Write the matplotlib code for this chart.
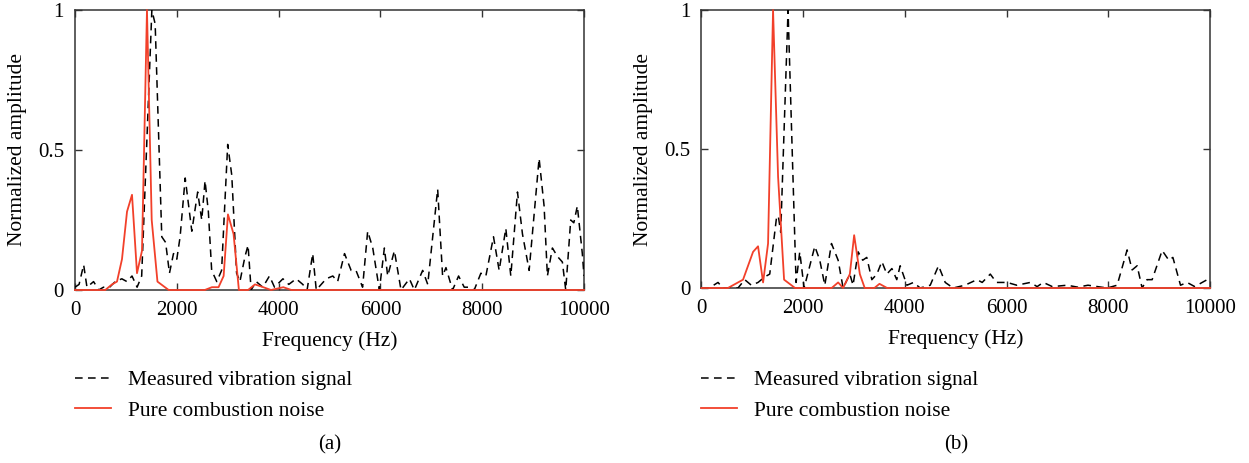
import matplotlib
matplotlib.use("Agg")
import matplotlib.pyplot as plt

plt.rcParams['font.family'] = ['Liberation Serif', 'DejaVu Serif']
plt.rcParams['font.size'] = 15

# (a) measured vibration signal
freq_a_meas = [0, 80, 170, 235, 300, 365, 465, 560, 680, 790, 920, 1020, 1120, 1220, 1310,
               1510, 1575, 1705, 1780, 1856, 1935, 2000, 2065, 2165, 2295, 2410, 2490, 2555,
               2620, 2685, 2785, 2880, 3000, 3080, 3175, 3240, 3340, 3400, 3460, 3560, 3690,
               3820, 3920, 4085, 4200, 4345, 4475, 4560, 4670, 4740, 4935, 5065, 5160, 5295,
               5425, 5520, 5650, 5750, 5850, 5980, 6078, 6143, 6275, 6405, 6570, 6667, 6830,
               6930, 7125, 7222, 7288, 7418, 7536, 7647, 7745, 7843, 7974, 8072, 8222, 8333,
               8464, 8562, 8693, 8791, 8922, 9118, 9216, 9281, 9379, 9477, 9575, 9641, 9739,
               9800, 9869, 9967, 10000]
amp_a_meas = [0.01, 0.02, 0.09, 0.01, 0.02, 0.03, 0.0, 0.01, 0.01, 0.03, 0.04, 0.03, 0.05, 0.01, 0.05,
              1.0, 0.95, 0.19, 0.17, 0.06, 0.13, 0.11, 0.19, 0.40, 0.21, 0.35, 0.25, 0.39,
              0.28, 0.07, 0.03, 0.07, 0.52, 0.41, 0.06, 0.03, 0.12, 0.16, 0.0, 0.03, 0.01,
              0.05, 0.01, 0.04, 0.02, 0.04, 0.02, 0.0, 0.13, 0.0, 0.04, 0.05, 0.03, 0.13,
              0.07, 0.07, 0.01, 0.21, 0.15, 0.0, 0.15, 0.05, 0.14, 0.0, 0.04, 0.0, 0.07,
              0.02, 0.36, 0.05, 0.08, 0.0, 0.05, 0.01, 0.01, 0.0, 0.06, 0.05, 0.19, 0.07,
              0.22, 0.05, 0.35, 0.2, 0.07, 0.47, 0.3, 0.05, 0.15, 0.12, 0.1, 0.0, 0.25,
              0.24, 0.3, 0.13, 0.05]

# (a) pure combustion noise
freq_a_comb = [0, 595, 727, 825, 923, 1022, 1120, 1218, 1316, 1414, 1507, 1620, 1840, 2550,
               2690, 2820, 2920, 3005, 3115, 3220, 3400, 3536, 3700, 3850, 4093, 4250, 10000]
amp_a_comb = [0, 0, 0.02, 0.03, 0.11, 0.28, 0.34, 0.06, 0.14, 1.0, 0.25, 0.03, 0, 0,
              0.01, 0.01, 0.05, 0.27, 0.2, 0.0, 0.0, 0.02, 0.01, 0.0, 0.01, 0, 0]

# (b) measured vibration signal
freq_b_meas = [0, 150, 325, 420, 600, 718, 850, 980, 1112, 1244, 1342, 1473, 1510, 1558, 1702,
               1860, 1932, 2018, 2228, 2326, 2425, 2556, 2687, 2785, 2917, 2980, 3081, 3170,
               3250, 3350, 3449, 3547, 3645, 3744, 3840, 3907, 4040, 4170, 4300, 4498, 4661,
               4793, 4950, 5180, 5417, 5520, 5679, 5800, 6010, 6200, 6466, 6600, 6722, 6900,
               7190, 7400, 7600, 7977, 8174, 8370, 8469, 8567, 8665, 8760, 8862, 9059, 9190,
               9270, 9420, 9550, 9700, 9846, 9945, 10000]
amp_b_meas = [0, 0, 0.02, 0, 0, 0.0, 0.03, 0.01, 0.02, 0.04, 0.05, 0.25, 0.26, 0.2, 1.0,
              0.02, 0.13, 0.0, 0.15, 0.1, 0.01, 0.16, 0.1, 0.0, 0.05, 0.01, 0.13, 0.1,
              0.11, 0.03, 0.05, 0.095, 0.05, 0.07, 0.03, 0.08, 0.01, 0.02, 0.0, 0.01, 0.08,
              0.02, 0.0, 0.01, 0.03, 0.02, 0.05, 0.02, 0.02, 0.01, 0.02, 0.005, 0.02, 0.005,
              0.01, 0.003, 0.01, 0.0, 0.01, 0.137, 0.065, 0.08, 0.0, 0.03, 0.03, 0.135, 0.1,
              0.11, 0.01, 0.02, 0.005, 0.02, 0.03, 0.04]

# (b) pure combustion noise
freq_b_comb = [0, 520, 718, 817, 1014, 1112, 1211, 1309, 1407, 1506, 1624, 1840, 2560, 2687,
               2785, 2917, 3002, 3114, 3210, 3400, 3500, 3650, 10000]
amp_b_comb = [0, 0, 0.02, 0.03, 0.13, 0.15, 0.02, 0.16, 1.0, 0.4, 0.03, 0, 0, 0.02,
              0.0, 0.05, 0.19, 0.05, 0, 0, 0.015, 0, 0]

labels = ["Measured vibration signal", "Pure combustion noise"]
red = "#f2402a"

fig = plt.figure(figsize=(12.49, 4.63), dpi=100)
ax_a = fig.add_axes([75/1249, 1-290/463, 509/1249, 280/463])
ax_b = fig.add_axes([701.5/1249, 1-288/463, 508.5/1249, 278/463])

panels = [(ax_a, freq_a_meas, amp_a_meas, freq_a_comb, amp_a_comb, "(a)"),
          (ax_b, freq_b_meas, amp_b_meas, freq_b_comb, amp_b_comb, "(b)")]

for ax, fm, am, fc, ac, tag in panels:
    l1, = ax.plot(fm, am, color="black", linestyle="--", dashes=(5, 3.5), linewidth=1.1,
                  zorder=3)
    l2, = ax.plot(fc, ac, color=red, linewidth=1.3, zorder=4, clip_on=False)
    ax.set_xlim(0, 10000)
    ax.set_ylim(0, 1)
    ax.set_xticks([0, 2000, 4000, 6000, 8000, 10000])
    ax.set_yticks([0, 0.5, 1])
    ax.set_yticklabels(["0", "0.5", "1"])
    ax.tick_params(direction="in", top=True, right=True, length=5, width=1,
                   color="#333333", labelsize=15, pad=8)
    for s in ax.spines.values():
        s.set_color("#333333")
        s.set_linewidth(1.1)
    ax.set_xlabel("Frequency (Hz)", fontsize=15.5, labelpad=8)
    ax.set_ylabel("Normalized amplitude", fontsize=15.5, labelpad=8)
    pos = ax.get_position()
    ax.legend([l1, l2], labels, loc="upper left", frameon=False, fontsize=15.5,
              bbox_to_anchor=(pos.x0, 1-370/463), bbox_transform=fig.transFigure,
              borderpad=0, borderaxespad=0, handlelength=1.65, handletextpad=0.8,
              labelspacing=0.5)
    fig.text(pos.x0 + pos.width/2, 1-445/463, tag, ha="center", va="center", fontsize=15)

fig.savefig("out.png", dpi=100)
